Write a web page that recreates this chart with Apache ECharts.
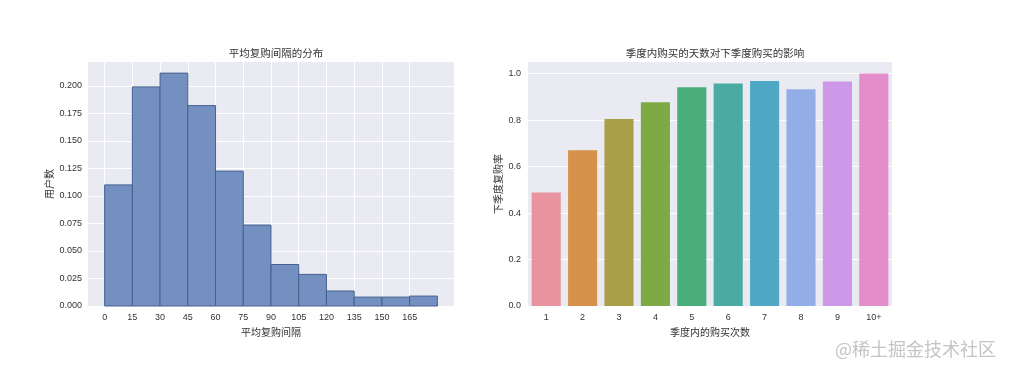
<!DOCTYPE html>
<html>
<head>
<meta charset="utf-8">
<script src="https://cdn.jsdelivr.net/npm/echarts@6/dist/echarts.min.js"></script>
<style>
html,body{margin:0;padding:0;background:#fff;}
#c{width:1010px;height:373px;}
</style>
</head>
<body>
<div id="c"></div>
<script>
// Left chart: histogram of average repurchase interval
const binStarts = [0, 15, 30, 45, 60, 75, 90, 105, 120, 135, 150, 165];
const binWidth = 15;
const binValues = [0.110, 0.199, 0.2115, 0.182, 0.1225, 0.0735, 0.0377, 0.0287, 0.0136, 0.0081, 0.0081, 0.009];
const histXTicks = [0, 15, 30, 45, 60, 75, 90, 105, 120, 135, 150, 165];
const histYTicks = [0, 0.025, 0.05, 0.075, 0.1, 0.125, 0.15, 0.175, 0.2];

// Right chart: purchase days in quarter vs next-quarter repurchase rate
const dayCategories = ['1', '2', '3', '4', '5', '6', '7', '8', '9', '10+'];
const repurchaseRates = [0.488, 0.670, 0.805, 0.877, 0.941, 0.957, 0.968, 0.933, 0.966, 1.0];
const barColors = ['#e8939f', '#d6924b', '#a99f48', '#7eaa45', '#4aae7c', '#4aaba2', '#4fa9c4', '#93aee7', '#cd98e8', '#e48dcb'];
const rateYTicks = [0, 0.2, 0.4, 0.6, 0.8, 1.0];

const FONT = 'Liberation Sans, Arial, Noto Sans CJK SC, sans-serif';
const TXT = '#333';

const chart = echarts.init(document.getElementById('c'), null, {renderer: 'canvas'});

const histData = binStarts.map((s, i) => [s, s + binWidth, binValues[i]]);

chart.setOption({
  animation: false,
  backgroundColor: '#fff',
  textStyle: {fontFamily: FONT, color: TXT},
  title: [
    {text: '平均复购间隔的分布', left: 271, top: 44, textAlign: 'center',
     textStyle: {fontSize: 10.5, fontWeight: 'normal', color: TXT, fontFamily: FONT}},
    {text: '季度内购买的天数对下季度购买的影响', left: 710, top: 44, textAlign: 'center',
     textStyle: {fontSize: 10.5, fontWeight: 'normal', color: TXT, fontFamily: FONT}}
  ],
  grid: [
    {left: 88, right: 556, top: 62, height: 244, show: true, backgroundColor: '#eaeaf2', borderWidth: 0},
    {left: 528, right: 118, top: 62, height: 244, show: true, backgroundColor: '#eaeaf2', borderWidth: 0}
  ],
  xAxis: [
    {
      type: 'value', gridIndex: 0, min: -9, max: 189,
      name: '平均复购间隔', nameLocation: 'middle', nameGap: 22,
      nameTextStyle: {fontSize: 10, color: TXT},
      axisLine: {show: false},
      axisTick: {show: false, customValues: histXTicks},
      axisLabel: {customValues: histXTicks, fontSize: 9, color: TXT, margin: 7},
      splitLine: {show: true, lineStyle: {color: '#fff', width: 1}}
    },
    {
      type: 'category', gridIndex: 1, data: dayCategories,
      name: '季度内的购买次数', nameLocation: 'middle', nameGap: 22,
      nameTextStyle: {fontSize: 10, color: TXT},
      axisLine: {show: false},
      axisTick: {show: false},
      axisLabel: {fontSize: 9, color: TXT, margin: 7},
      splitLine: {show: false}
    }
  ],
  yAxis: [
    {
      type: 'value', gridIndex: 0, min: 0, max: 0.2216,
      name: '用户数', nameLocation: 'middle', nameGap: 33, nameRotate: 90,
      nameTextStyle: {fontSize: 10, color: TXT},
      axisLine: {show: false},
      axisTick: {show: false, customValues: histYTicks},
      axisLabel: {customValues: histYTicks, fontSize: 9, color: TXT, margin: 6,
                  formatter: v => v.toFixed(3)},
      splitLine: {show: true, lineStyle: {color: '#fff', width: 1}}
    },
    {
      type: 'value', gridIndex: 1, min: 0, max: 1.05,
      name: '下季度复购率', nameLocation: 'middle', nameGap: 24, nameRotate: 90,
      nameTextStyle: {fontSize: 10, color: TXT},
      axisLine: {show: false},
      axisTick: {show: false, customValues: rateYTicks},
      axisLabel: {customValues: rateYTicks, fontSize: 9, color: TXT, margin: 7,
                  formatter: v => v.toFixed(1)},
      splitLine: {show: true, lineStyle: {color: '#fff', width: 1}}
    }
  ],
  series: [
    {
      type: 'custom', xAxisIndex: 0, yAxisIndex: 0,
      data: histData,
      encode: {x: [0, 1], y: 2},
      renderItem: function (params, api) {
        const p0 = api.coord([api.value(0), api.value(2)]);
        const p1 = api.coord([api.value(1), 0]);
        return {
          type: 'rect',
          shape: {x: p0[0], y: p0[1], width: p1[0] - p0[0], height: p1[1] - p0[1]},
          style: {fill: '#7390c0', stroke: '#46618f', lineWidth: 1}
        };
      }
    },
    {
      type: 'bar', xAxisIndex: 1, yAxisIndex: 1,
      barCategoryGap: '20%',
      data: repurchaseRates.map((v, i) => ({value: v, itemStyle: {color: barColors[i]}}))
    }
  ],
  graphic: [
    {type: 'text', left: 835, top: 340,
     style: {text: '@稀土掘金技术社区', fontSize: 18, fill: '#c4c4c4', fontFamily: 'Noto Sans CJK SC, sans-serif'}}
  ]
});
</script>
</body>
</html>
